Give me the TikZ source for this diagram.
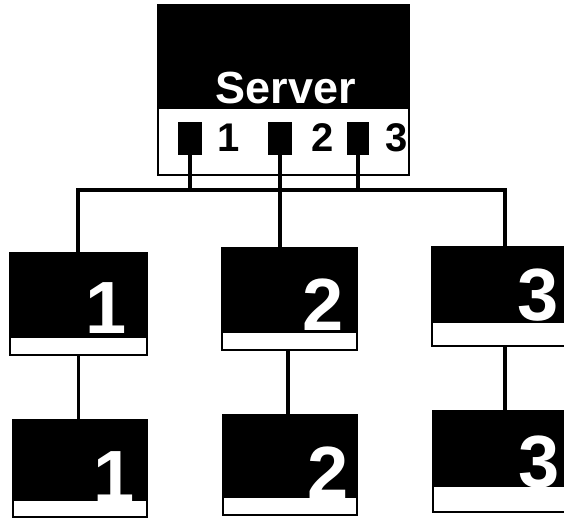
\documentclass[tikz,border=0pt]{standalone}
\usepackage{fontspec}
\setmainfont{Liberation Sans}
\usetikzlibrary{calc}
\begin{document}
\begin{tikzpicture}[x=1pt,y=-1pt,
  card/.style={draw=black,fill=black,line width=1.8pt,inner sep=0pt,rectangle},
  topbox/.style={draw=black,fill=white,line width=1.2pt,inner sep=0pt,rectangle},
  port/.style={fill=black,inner sep=0pt,rectangle},
  conn/.style={draw=black,line width=3.2pt},
  bigdigit/.style={text=white,inner sep=0pt,font=\fontsize{74}{74}\selectfont\bfseries},
  portdigit/.style={text=black,inner sep=0pt,font=\fontsize{40}{40}\selectfont\bfseries},
  servertext/.style={text=white,inner sep=0pt,font=\fontsize{45}{45}\selectfont\bfseries}]
\useasboundingbox[fill=white] (0,0) rectangle (564,518);

% top server box
\node[topbox, minimum width=251pt, minimum height=170pt] (S) at (283.5,90) {};
\fill[black] ([shift={(0.6,0.6)}]S.north west) rectangle ([shift={(-0.6,105)}]S.north east);
\node[servertext] (Stext) at (286,88) {Server};
\node[port, minimum width=24pt, minimum height=33pt] (p1) at (190,138.5) {};
\node[port, minimum width=24pt, minimum height=33pt] (p2) at (280,138.5) {};
\node[port, minimum width=22pt, minimum height=33pt] (p3) at (358,138.5) {};
\node[portdigit, anchor=base] (d1) at (229,152) {1};
\node[portdigit, anchor=base] (d2) at (323,152) {2};
\node[portdigit, anchor=base] (d3) at (397,152) {3};

% level 1 cards
\node[card, minimum width=137pt, minimum height=102pt] (a1) at (78.5,304) {};
\node[card, minimum width=135pt, minimum height=102pt] (a2) at (289.5,299) {};
\node[card, minimum width=134pt, minimum height=99pt] (a3) at (499,296.5) {};
\fill[white] ([shift={(1.5,-1.5)}]a1.south west) rectangle ([shift={(-1.5,-18)}]a1.south east);
\fill[white] ([shift={(1.5,-1.5)}]a2.south west) rectangle ([shift={(-1.5,-18)}]a2.south east);
\fill[white] ([shift={(1.5,-1.5)}]a3.south west) rectangle ([shift={(-1.5,-24)}]a3.south east);
\node[bigdigit, anchor=base east] (a1n) at (127,333) {1};
\node[bigdigit, anchor=base east] (a2n) at (344,330) {2};
\node[bigdigit, anchor=base east] (a3n) at (559,320) {3};

% level 2 cards
\node[card, minimum width=134pt, minimum height=97pt] (b1) at (80,468.5) {};
\node[card, minimum width=134pt, minimum height=100pt] (b2) at (290,465) {};
\node[card, minimum width=133pt, minimum height=101pt] (b3) at (499.5,461.5) {};
\fill[white] ([shift={(1.5,-1.5)}]b1.south west) rectangle ([shift={(-1.5,-17)}]b1.south east);
\fill[white] ([shift={(1.5,-1.5)}]b2.south west) rectangle ([shift={(-1.5,-18)}]b2.south east);
\fill[white] ([shift={(1.5,-1.5)}]b3.south west) rectangle ([shift={(-1.5,-26)}]b3.south east);
\node[bigdigit, anchor=base east] (b1n) at (135,502) {1};
\node[bigdigit, anchor=base east] (b2n) at (349,498) {2};
\node[bigdigit, anchor=base east] (b3n) at (560,487) {3};

% connectors
\coordinate (busL) at (78,190);
\coordinate (busM) at (280,190);
\coordinate (busR) at (505,190);
\draw[conn] ([xshift=-1.6pt]busL) -- ([xshift=1.6pt]busR);
\draw[conn] (p1.south) -- (p1.south |- busL);
\draw[conn] (p2.south) -- (p2.south |- busL);
\draw[conn] (p3.south) -- (p3.south |- busL);
\draw[conn] (busL) -- (busL |- a1.north);
\draw[conn] (busM) -- (busM |- a2.north);
\draw[conn] (busR) -- (busR |- a3.north);
\draw[conn] (a1.south) -- (a1.south |- b1.north);
\draw[conn] ([xshift=-1.5pt]a2.south) -- ([xshift=-1.5pt]a2.south |- b2.north);
\draw[conn] (a3.south -| busR) -- (b3.north -| busR);
\end{tikzpicture}
\end{document}
